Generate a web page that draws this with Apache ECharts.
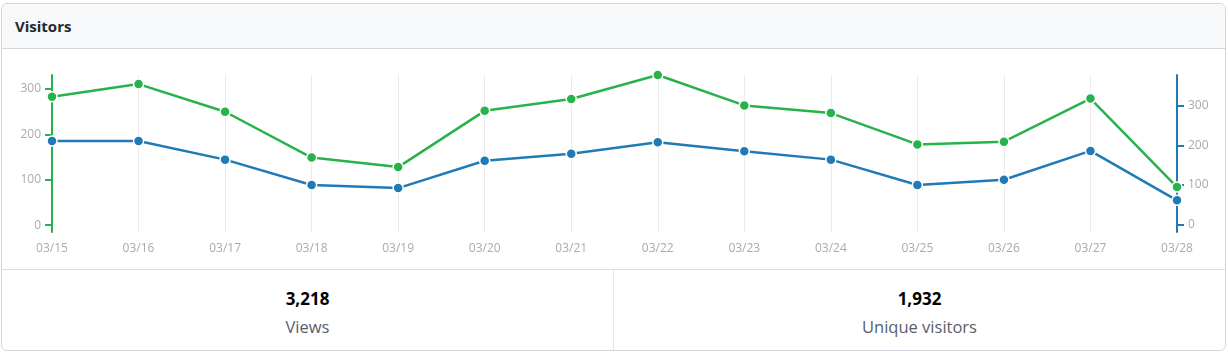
<!DOCTYPE html>
<html>
<head>
<meta charset="utf-8">
<script src="https://cdn.jsdelivr.net/npm/echarts@6/dist/echarts.min.js"></script>
<style>
  html, body { margin: 0; padding: 0; background: #fff; }
  body { width: 1228px; height: 353px; position: relative; overflow: hidden;
         font-family: "Open Sans", "Noto Sans", sans-serif; }
  #box { position: absolute; left: 1px; top: 3px; width: 1223px; height: 346px;
         border: 1px solid #d0d7de; border-radius: 6px; overflow: hidden; }
  #head { height: 45px; background: #f6f8fa; border-bottom: 1px solid #d0d7de;
          box-sizing: border-box; padding-left: 13px; line-height: 45px;
          font-size: 15px; font-weight: 700; color: #24292f; }
  #foot { position: absolute; left: 0; right: 0; top: 265px; bottom: 0;
          border-top: 1px solid #d8dee4; display: flex; }
  .cell { flex: 1; text-align: center; padding-top: 18px; }
  .cell + .cell { border-left: 1px solid #e4e8ec; }
  .num { font-size: 17px; font-weight: 700; color: #000; line-height: 22px; }
  .lbl { font-size: 16.5px; color: #57606a; line-height: 22px; margin-top: 6px; }
  #content { position: absolute; left: 0; top: 0; width: 1228px; height: 353px; }
</style>
</head>
<body>
<div id="box">
  <div id="head">Visitors</div>
  <div id="foot">
    <div class="cell"><div class="num" id="totalViews"></div><div class="lbl">Views</div></div>
    <div class="cell"><div class="num" id="totalUniques"></div><div class="lbl">Unique visitors</div></div>
  </div>
</div>
<div id="content"></div>
<script>
// 日期（横轴）
var days = ["03/15", "03/16", "03/17", "03/18", "03/19", "03/20", "03/21",
            "03/22", "03/23", "03/24", "03/25", "03/26", "03/27", "03/28"];
// 每日浏览量（左轴，绿色）
var views = [283, 311, 250, 149, 128, 252, 278, 331, 264, 247, 178, 184, 279, 84];
// 每日独立访客（右轴，蓝色）
var uniques = [211, 211, 164, 100, 92, 161, 179, 208, 185, 164, 100, 113, 186, 61];
// 底部汇总
var totalViews = "3,218";
var totalUniques = "1,932";
// 刻度
var yTicks = [0, 100, 200, 300];

var greenColor = "#28b24b";
var blueColor = "#1f7bb6";

document.getElementById("totalViews").textContent = totalViews;
document.getElementById("totalUniques").textContent = totalUniques;

function yAxis(color, min, max, pos) {
    return {
        type: "value",
        position: pos,
        min: min,
        max: max,
        axisLine: { show: true, lineStyle: { color: color, width: 2 } },
        axisTick: { show: true, length: 7, lineStyle: { color: color, width: 2 }, customValues: yTicks },
        axisLabel: { color: "#aaa", fontSize: 12, margin: 11, fontFamily: "Open Sans", customValues: yTicks },
        splitLine: { show: false }
    };
}

var myChart = echarts.init(document.getElementById("content"));
myChart.setOption({
    animation: false,
    grid: { left: 52, right: 51, top: 75, bottom: 121, containLabel: false },
    xAxis: {
        type: "category",
        data: days,
        boundaryGap: false,
        axisLine: { show: false },
        axisTick: { show: false },
        axisLabel: { color: "#aaa", fontSize: 12, margin: 11, fontFamily: "Open Sans" },
        splitLine: { show: true, lineStyle: { color: "#ebebeb", width: 1 } }
    },
    yAxis: [
        yAxis(greenColor, -15, 331, "left"),
        yAxis(blueColor, -19, 378, "right")
    ],
    series: [{
        name: "Views",
        type: "line",
        yAxisIndex: 0,
        data: views,
        symbol: "circle",
        symbolSize: 10,
        lineStyle: { color: greenColor, width: 2.5 },
        itemStyle: { color: greenColor, borderColor: "#fff", borderWidth: 1.5 }
    }, {
        name: "Unique visitors",
        type: "line",
        yAxisIndex: 1,
        data: uniques,
        symbol: "circle",
        symbolSize: 10,
        lineStyle: { color: blueColor, width: 2.5 },
        itemStyle: { color: blueColor, borderColor: "#fff", borderWidth: 1.5 }
    }]
});
</script>
</body>
</html>
